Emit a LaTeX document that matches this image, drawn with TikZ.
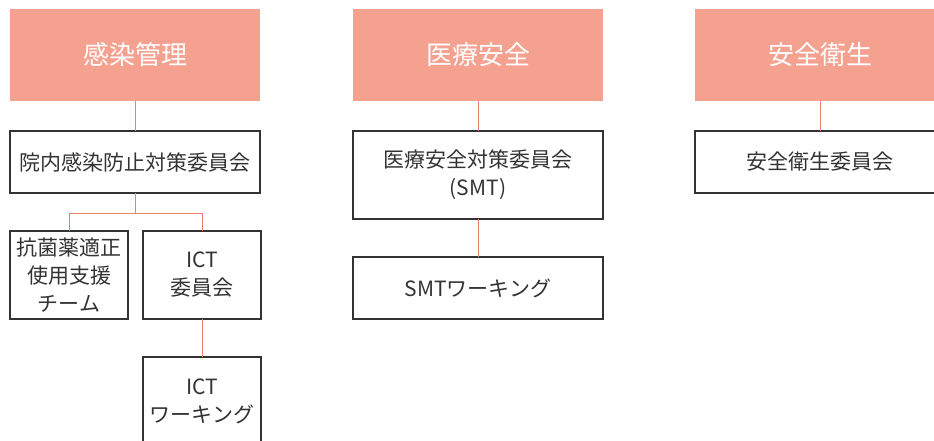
\documentclass[tikz,border=0pt]{standalone}
\usepackage{fontspec}
\setmainfont{Noto Sans CJK JP}
\usepackage{xcolor}
\usetikzlibrary{positioning}
\definecolor{headsalmon}{HTML}{F4A190}
\definecolor{linkred}{HTML}{EE8070}
\definecolor{boxgray}{HTML}{333333}

\begin{document}
\begin{tikzpicture}[
    x=1pt, y=1pt,
    node distance=30pt,
    header/.style={rectangle, minimum width=250pt, minimum height=92pt, inner sep=0pt, outer sep=0pt, fill=headsalmon, text=white, font=\fontsize{26}{30}\selectfont},
    committee/.style={rectangle, minimum width=250pt, minimum height=62pt, inner sep=0pt, outer sep=0pt, draw=boxgray, line width=1.2pt, text=boxgray, align=center, font=\fontsize{21}{28}\selectfont},
    team/.style={committee, minimum width=118pt, minimum height=88pt},
    link/.style={linkred, line width=0.9pt}
]
    \useasboundingbox (0,0) rectangle (934,-441);
    \clip (0,0) rectangle (934,-441);

    \node (infection) [header] at (135,-55) {感染管理};
    \node (medsafety) [header] at (478,-55) {医療安全};
    \node (worksafety) [header] at (820,-55) {安全衛生};

    \node (infcom) [committee, below=of infection] {院内感染防止対策委員会};
    \node (amsteam) [team, below=38pt of infcom.south, xshift=-66pt] {抗菌薬適正\\使用支援\\チーム};
    \node (ictcom) [team, below=38pt of infcom.south, xshift=67pt] {ICT\\委員会};
    \node (ictwork) [team, below=38pt of ictcom] {ICT\\ワーキング};

    \node (smtcom) [committee, minimum height=88pt, below=of medsafety] {医療安全対策委員会\\(SMT)};
    \node (smtwork) [committee, below=38pt of smtcom] {SMTワーキング};

    \node (shcom) [committee, below=of worksafety] {安全衛生委員会};

    \draw [link] (infection) -- (infcom);
    \draw [link] (infcom.south) -- ++(0,-20) -| (amsteam.north);
    \draw [link] (infcom.south) -- ++(0,-20) -| (ictcom.north);
    \draw [link] (ictcom) -- (ictwork);
    \draw [link] (medsafety) -- (smtcom);
    \draw [link] (smtcom) -- (smtwork);
    \draw [link] (worksafety) -- (shcom);
\end{tikzpicture}
\end{document}
